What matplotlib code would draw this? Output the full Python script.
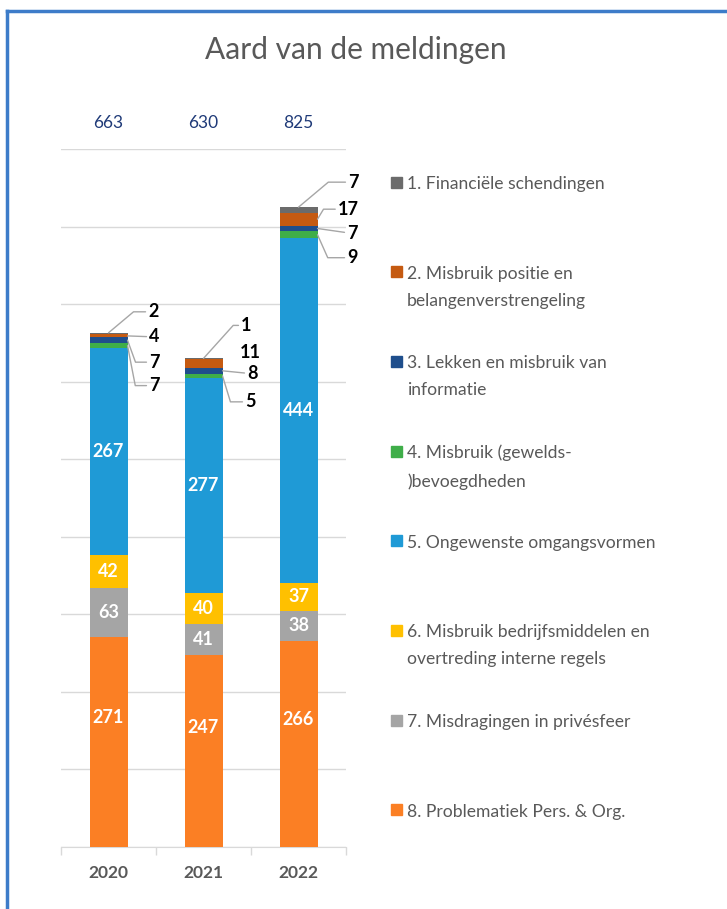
import numpy as np
import matplotlib.pyplot as plt
from matplotlib.patches import Rectangle
from matplotlib.lines import Line2D

plt.rcParams['font.family'] = ['Lato', 'DejaVu Sans']

W, H = 727, 909

#-------data------
years = ['2020', '2021', '2022']
totals = [663, 630, 825]
labels = ['1. Financiële schendingen',
          '2. Misbruik positie en\nbelangenverstrengeling',
          '3. Lekken en misbruik van\ninformatie',
          '4. Misbruik (gewelds-\n)bevoegdheden',
          '5. Ongewenste omgangsvormen',
          '6. Misbruik bedrijfsmiddelen en\novertreding interne regels',
          '7. Misdragingen in privésfeer',
          '8. Problematiek Pers. & Org.']
fin = [2, 1, 7]
pos = [4, 11, 17]
lek = [7, 8, 7]
gew = [7, 5, 9]
omg = [267, 277, 444]
bedr = [42, 40, 37]
priv = [63, 41, 38]
prob = [271, 247, 266]
values = [fin, pos, lek, gew, omg, bedr, priv, prob]
colors = ['#6b6b6b', '#c55a11', '#1f4e8c', '#3fae49', '#1f9ad6',
          '#ffc000', '#a5a5a5', '#fb7f24']

# leader layout for the small segments: anchor ('c' top centre, 'r' right edge),
# text offset in pixels, angle of the slanted part (None = straight, 'no' = no line)
leaders = {
    (0, 0): ('c', 45, 21, 40), (0, 1): ('r', 27, -1, None),
    (0, 2): ('r', 27, -22, -70), (0, 3): ('r', 27, -40, -79),
    (1, 0): ('c', 43, 33, 48), (1, 1): ('r', 28, 11, 'no'),
    (1, 2): ('r', 30, -3, None), (1, 3): ('r', 28, -26, -73),
    (2, 0): ('c', 55, 25, 40), (2, 1): ('r', 31, 10, 59),
    (2, 2): ('r', 35, -5, None), (2, 3): ('r', 35, -23, -66),
}

fig = plt.figure(figsize=(W / 100, H / 100), dpi=100)
ax = fig.add_axes([61 / W, 1 - 847 / H, 285 / W, (847 - 149) / H])

x = np.arange(len(years))
bw = 0.4
bottom = np.zeros(len(years))
mids, tops = {}, {}
for k in range(7, -1, -1):
    v = np.array(values[k])
    ax.bar(x, v, bw, bottom=bottom, color=colors[k], zorder=3)
    mids[k] = bottom + v / 2
    bottom = bottom + v
    tops[k] = bottom.copy()

# labels inside the large segments
for k in range(4, 8):
    for i in x:
        off = 24 if k == 7 else 0
        ax.annotate(str(values[k][i]), (i, mids[k][i]), xytext=(0, off),
                    textcoords='offset pixels', ha='center', va='center',
                    color='white', fontweight='bold', fontsize=13, zorder=5)

# labels with leader lines for the small segments
for (i, k), (anc, dx, dy, ang) in leaders.items():
    if anc == 'c':
        xy = (i, tops[k][i])
    else:
        xy = (i + bw / 2, mids[k][i])
    props = None
    if ang is None:
        props = dict(arrowstyle='-', color='#a6a6a6', lw=1, shrinkA=0, shrinkB=0)
    elif ang != 'no':
        props = dict(arrowstyle='-', color='#a6a6a6', lw=1, shrinkA=0, shrinkB=0,
                     connectionstyle=f'angle,angleA=0,angleB={ang},rad=0')
    ax.annotate(str(values[k][i]), xy, xytext=(dx, dy), textcoords='offset pixels',
                ha='center', va='center', fontweight='bold', fontsize=13,
                color='black', arrowprops=props, annotation_clip=False, zorder=5)

# totals above the bars
for i in x:
    ax.annotate(str(totals[i]), (i, 900), xytext=(0, 26), textcoords='offset pixels',
                ha='center', va='center', fontsize=12.5, color='#1f3a78',
                annotation_clip=False)

#-------axis------
ax.set_xlim(-0.5, 2.5)
ax.set_ylim(0, 900)
ax.set_yticks(range(0, 901, 100))
ax.yaxis.grid(True, color='#d9d9d9', lw=1, zorder=0)
ax.tick_params(axis='y', length=0, labelleft=False)
ax.set_xticks([-0.5, 0.5, 1.5, 2.5])
ax.set_xticklabels([])
ax.set_xticks(x, years, minor=True)
ax.tick_params(axis='x', which='major', length=6, color='#d9d9d9', width=1)
ax.tick_params(axis='x', which='minor', length=0, pad=13, labelsize=12.5,
               labelcolor='#595959')
for lab in ax.get_xticklabels(minor=True):
    lab.set_fontweight('bold')
for s in ['top', 'left', 'right']:
    ax.spines[s].set_visible(False)
ax.spines['bottom'].set_color('#d9d9d9')

# title
fig.text(356 / W, 1 - 50 / H, 'Aard van de meldingen', ha='center', va='center',
         fontsize=21.5, color='#595959')

# legend
for k in range(8):
    yp = 182 + 89.7 * k
    fig.patches.append(Rectangle((391 / W, 1 - (yp + 5.5) / H), 11 / W, 11 / H,
                                 transform=fig.transFigure, color=colors[k], figure=fig))
    fig.text(407 / W, 1 - (yp - 6.2) / H, labels[k], ha='left', va='top',
             fontsize=12.6, color='#595959', linespacing=1.85)

# blue frame (top and left)
fig.add_artist(Line2D([7 / W, 1], [1 - 11 / H] * 2, color='#3d7cc9', lw=2.5))
fig.add_artist(Line2D([7 / W] * 2, [0, 1 - 11 / H], color='#3d7cc9', lw=2.5))

fig.savefig('out.png', dpi=100)
